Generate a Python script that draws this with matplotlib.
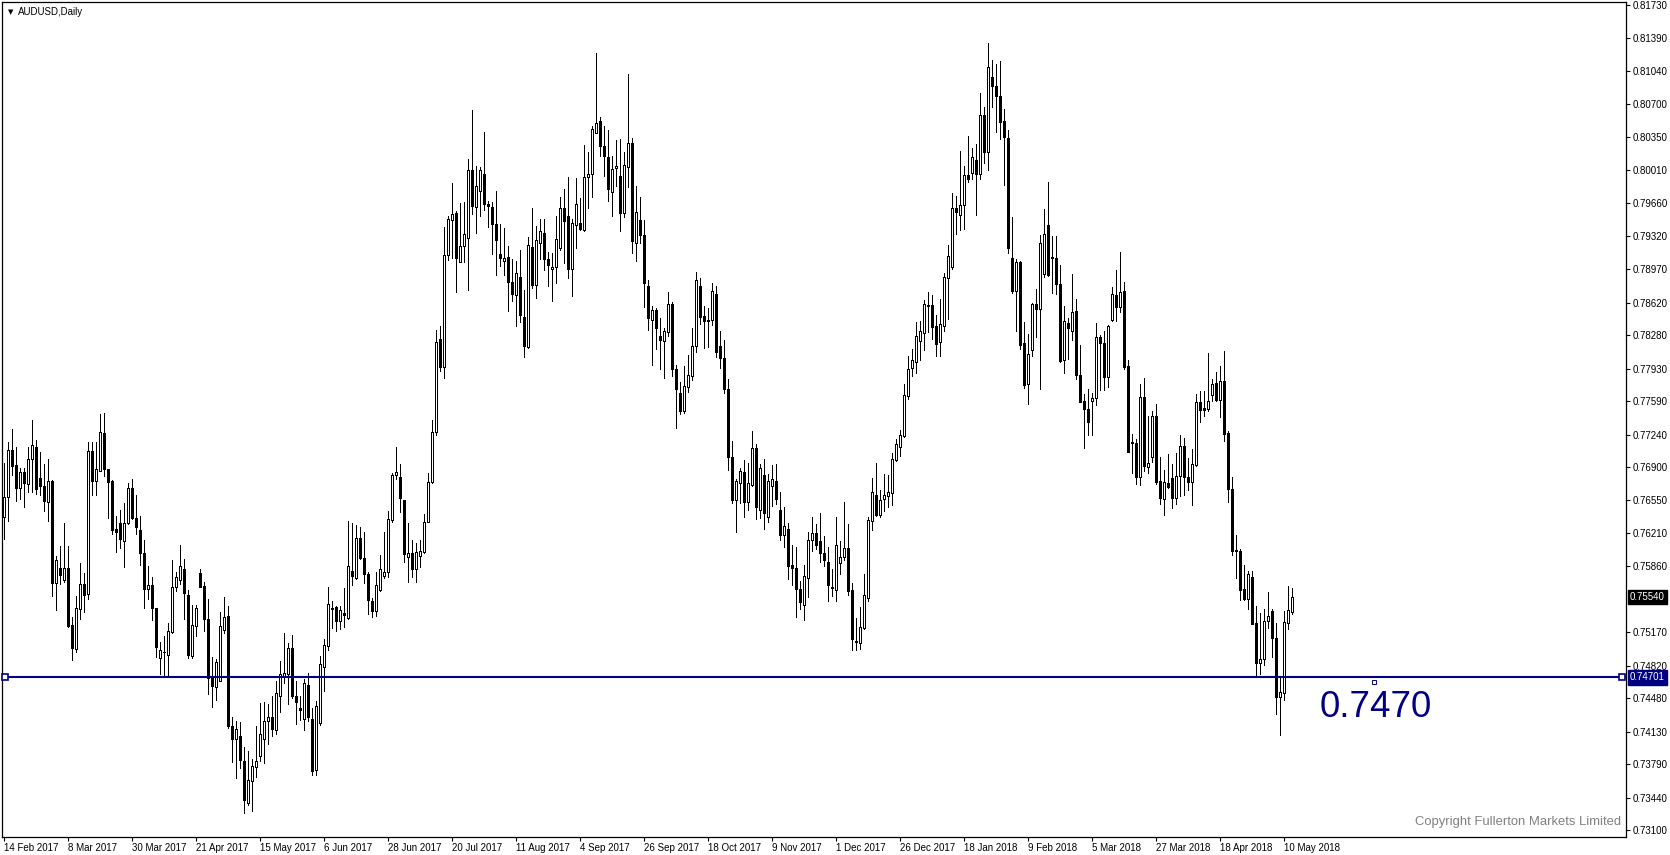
import matplotlib
matplotlib.use("Agg")
import matplotlib.pyplot as plt
import matplotlib.transforms as mtransforms
import numpy as np

plt.rcParams["font.family"] = ["Liberation Sans", "DejaVu Sans"]

# AUDUSD daily OHLC, 14 Feb 2017 .. mid May 2018
opens = [
    .7638, .7659, .7708, .7692, .7668, .7685, .7672, .7698, .7711, .7678,
    .7670, .7653, .7675, .7569, .7584, .7572, .7584, .7525, .7500, .7541,
    .7568, .7557, .7707, .7675, .7686, .7726, .7688, .7675, .7625, .7631,
    .7613, .7631, .7668, .7637, .7624, .7600, .7562, .7567, .7543, .7490,
    .7497, .7493, .7517, .7564, .7572, .7583, .7556, .7492, .7524, .7579,
    .7566, .7531, .7470, .7460, .7466, .7519, .7534, .7419, .7405, .7409,
    .7383, .7339, .7362, .7376, .7388, .7405, .7424, .7429, .7415, .7451,
    .7470, .7474, .7501, .7451, .7438, .7426, .7462, .7426, .7373, .7422,
    .7481, .7503, .7541, .7544, .7529, .7537, .7532, .7581, .7574, .7616,
    .7595, .7578, .7550, .7539, .7561, .7576, .7580, .7635, .7682, .7680,
    .7655, .7596, .7600, .7583, .7597, .7601, .7633, .7674, .7727, .7824,
    .7795, .7912, .7948, .7956, .7904, .7921, .7930, .8001, .7962, .7979,
    .7997, .7965, .7962, .7944, .7913, .7906, .7910, .7884, .7870, .7889,
    .7847, .7816, .7920, .7880, .7924, .7935, .7908, .7897, .7899, .7919,
    .7961, .7953, .7897, .7943, .7945, .7938, .7993, .7996, .8039, .8052,
    .8026, .8014, .7978, .8003, .7994, .7956, .8004, .8029, .7924, .7948,
    .7933, .7879, .7844, .7854, .7827, .7822, .7831, .7860, .7792, .7767,
    .7749, .7774, .7785, .7817, .7879, .7848, .7843, .7844, .7871, .7817,
    .7804, .7772, .7700, .7656, .7673, .7685, .7653, .7671, .7710, .7645,
    .7682, .7638, .7670, .7675, .7645, .7619, .7625, .7587, .7584, .7562,
    .7546, .7574, .7614, .7621, .7613, .7600, .7591, .7564, .7561, .7590,
    .7596, .7605, .7561, .7508, .7506, .7522, .7553, .7634, .7661, .7640,
    .7657, .7660, .7663, .7697, .7711, .7722, .7764, .7794, .7800, .7822,
    .7830, .7859, .7859, .7837, .7821, .7838, .7888, .7899, .7961, .7954,
    .7964, .7995, .7998, .8011, .7996, .8058, .8019, .8098, .8089, .8078,
    .8052, .8034, .7909, .7874, .7904, .7820, .7777, .7812, .7860, .7855,
    .7892, .7943, .7910, .7909, .7881, .7802, .7841, .7832, .7853, .7786,
    .7759, .7751, .7759, .7762, .7826, .7820, .7784, .7844, .7870, .7857,
    .7874, .7796, .7716, .7715, .7680, .7763, .7690, .7700, .7743, .7675,
    .7657, .7673, .7678, .7658, .7681, .7712, .7680, .7674, .7692, .7758,
    .7752, .7751, .7765, .7778, .7760, .7780, .7726, .7667, .7603, .7602,
    .7562, .7552, .7575, .7527, .7485, .7489, .7529, .7539, .7511, .7449,
    .7454, .7527, .7538,
]
highs = [
    .7694, .7716, .7730, .7711, .7689, .7689, .7711, .7739, .7718, .7706,
    .7693, .7698, .7676, .7597, .7607, .7631, .7607, .7533, .7555, .7590,
    .7579, .7716, .7716, .7716, .7745, .7747, .7688, .7676, .7639, .7645,
    .7652, .7673, .7677, .7661, .7639, .7614, .7586, .7575, .7543, .7507,
    .7513, .7527, .7593, .7580, .7608, .7594, .7561, .7546, .7546, .7583,
    .7570, .7552, .7491, .7489, .7538, .7554, .7545, .7429, .7424, .7423,
    .7397, .7393, .7385, .7419, .7443, .7444, .7442, .7451, .7466, .7487,
    .7516, .7506, .7514, .7466, .7451, .7468, .7475, .7438, .7445, .7492,
    .7510, .7565, .7550, .7545, .7545, .7563, .7634, .7631, .7629, .7627,
    .7622, .7580, .7553, .7580, .7598, .7622, .7644, .7684, .7711, .7693,
    .7655, .7631, .7614, .7611, .7614, .7641, .7684, .7739, .7833, .7838,
    .7941, .7953, .7987, .7958, .7966, .7967, .8012, .8063, .8005, .8004,
    .8040, .7968, .7967, .7979, .7944, .7940, .7921, .7908, .7906, .7917,
    .7875, .7931, .7961, .7942, .7949, .7949, .7915, .7914, .7953, .7972,
    .7981, .7993, .7949, .7992, .7971, .8027, .8019, .8047, .8123, .8056,
    .8047, .8043, .8015, .8032, .8033, .8019, .8101, .8034, .7984, .7972,
    .7948, .7886, .7858, .7856, .7846, .7835, .7873, .7863, .7797, .7779,
    .7796, .7807, .7835, .7894, .7888, .7858, .7856, .7882, .7879, .7832,
    .7823, .7782, .7717, .7677, .7689, .7697, .7694, .7728, .7714, .7693,
    .7698, .7683, .7692, .7693, .7664, .7648, .7631, .7608, .7606, .7571,
    .7588, .7622, .7638, .7630, .7642, .7618, .7606, .7583, .7638, .7613,
    .7653, .7630, .7569, .7532, .7544, .7578, .7638, .7678, .7694, .7666,
    .7683, .7682, .7705, .7719, .7729, .7777, .7806, .7813, .7842, .7843,
    .7865, .7873, .7870, .7849, .7866, .7893, .7922, .7977, .7973, .8021,
    .8005, .8036, .8024, .8028, .8081, .8067, .8133, .8116, .8112, .8115,
    .8065, .8043, .7952, .7908, .7906, .7842, .7829, .7862, .7876, .7933,
    .7960, .7988, .7932, .7932, .7901, .7858, .7846, .7892, .7866, .7818,
    .7766, .7772, .7767, .7841, .7828, .7832, .7839, .7878, .7896, .7915,
    .7884, .7802, .7725, .7719, .7777, .7783, .7743, .7749, .7756, .7700,
    .7687, .7704, .7693, .7705, .7724, .7720, .7699, .7709, .7766, .7770,
    .7769, .7809, .7782, .7789, .7796, .7811, .7728, .7680, .7619, .7604,
    .7588, .7581, .7581, .7545, .7537, .7542, .7559, .7541, .7527, .7470,
    .7539, .7566, .7563,
]
lows = [
    .7615, .7634, .7682, .7654, .7657, .7648, .7664, .7664, .7662, .7661,
    .7644, .7634, .7555, .7540, .7568, .7570, .7523, .7488, .7496, .7531,
    .7538, .7552, .7661, .7661, .7686, .7681, .7637, .7620, .7601, .7605,
    .7585, .7630, .7636, .7620, .7588, .7543, .7552, .7530, .7491, .7473,
    .7471, .7470, .7516, .7560, .7568, .7531, .7490, .7490, .7513, .7565,
    .7518, .7453, .7439, .7446, .7466, .7516, .7417, .7381, .7365, .7375,
    .7328, .7336, .7330, .7366, .7383, .7380, .7400, .7409, .7411, .7434,
    .7464, .7442, .7448, .7421, .7425, .7415, .7424, .7368, .7368, .7420,
    .7456, .7499, .7522, .7518, .7521, .7523, .7531, .7567, .7573, .7594,
    .7569, .7536, .7533, .7534, .7560, .7574, .7575, .7633, .7677, .7643,
    .7591, .7570, .7575, .7570, .7585, .7600, .7633, .7673, .7724, .7790,
    .7783, .7907, .7909, .7873, .7904, .7904, .7875, .7955, .7935, .7953,
    .7959, .7941, .7913, .7891, .7900, .7891, .7853, .7864, .7838, .7842,
    .7805, .7814, .7877, .7867, .7908, .7896, .7879, .7864, .7882, .7917,
    .7903, .7888, .7869, .7919, .7938, .7937, .7961, .7972, .8039, .8015,
    .7994, .7968, .7953, .7984, .7937, .7951, .7983, .7914, .7906, .7924,
    .7857, .7833, .7797, .7813, .7793, .7783, .7827, .7785, .7731, .7745,
    .7747, .7768, .7781, .7810, .7840, .7815, .7816, .7839, .7805, .7794,
    .7767, .7687, .7652, .7622, .7652, .7638, .7645, .7670, .7636, .7637,
    .7625, .7633, .7649, .7651, .7614, .7606, .7573, .7567, .7533, .7542,
    .7530, .7554, .7602, .7604, .7591, .7586, .7550, .7555, .7550, .7578,
    .7593, .7556, .7499, .7499, .7500, .7521, .7550, .7624, .7639, .7638,
    .7644, .7648, .7650, .7696, .7702, .7721, .7761, .7785, .7788, .7802,
    .7812, .7831, .7824, .7806, .7806, .7832, .7845, .7897, .7934, .7938,
    .7939, .7988, .7991, .7954, .7991, .8008, .8001, .8067, .8040, .8033,
    .7985, .7914, .7872, .7832, .7813, .7773, .7756, .7806, .7826, .7772,
    .7889, .7890, .7872, .7871, .7800, .7788, .7803, .7823, .7782, .7758,
    .7710, .7724, .7724, .7755, .7771, .7771, .7774, .7843, .7843, .7852,
    .7792, .7706, .7684, .7672, .7671, .7686, .7684, .7695, .7672, .7651,
    .7640, .7668, .7647, .7651, .7660, .7661, .7666, .7650, .7691, .7737,
    .7743, .7749, .7759, .7759, .7742, .7717, .7653, .7598, .7574, .7551,
    .7551, .7541, .7526, .7470, .7473, .7483, .7522, .7491, .7432, .7410,
    .7446, .7521, .7536,
]
closes = [
    .7659, .7708, .7691, .7668, .7685, .7673, .7698, .7713, .7667, .7670,
    .7654, .7675, .7569, .7593, .7577, .7584, .7524, .7501, .7543, .7568,
    .7556, .7707, .7675, .7688, .7727, .7688, .7674, .7624, .7622, .7615,
    .7631, .7668, .7637, .7627, .7600, .7562, .7567, .7543, .7502, .7499,
    .7497, .7518, .7564, .7575, .7586, .7558, .7493, .7525, .7543, .7565,
    .7531, .7469, .7461, .7486, .7524, .7533, .7419, .7405, .7416, .7384,
    .7342, .7363, .7377, .7383, .7411, .7424, .7429, .7416, .7454, .7474,
    .7475, .7501, .7451, .7444, .7436, .7464, .7429, .7372, .7440, .7484,
    .7504, .7547, .7543, .7529, .7540, .7535, .7586, .7576, .7616, .7595,
    .7578, .7551, .7539, .7567, .7583, .7580, .7636, .7682, .7685, .7658,
    .7599, .7600, .7583, .7601, .7602, .7633, .7674, .7727, .7821, .7795,
    .7912, .7949, .7955, .7909, .7921, .7934, .8001, .7963, .7984, .8001,
    .7965, .7963, .7944, .7927, .7909, .7909, .7884, .7871, .7893, .7849,
    .7817, .7922, .7880, .7927, .7937, .7908, .7901, .7899, .7928, .7961,
    .7947, .7897, .7945, .7965, .7939, .7993, .7997, .8044, .8050, .8026,
    .8015, .7981, .8002, .8005, .7956, .8006, .8029, .7926, .7957, .7933,
    .7882, .7846, .7854, .7835, .7823, .7832, .7860, .7792, .7772, .7749,
    .7775, .7786, .7817, .7886, .7847, .7843, .7844, .7874, .7810, .7804,
    .7772, .7700, .7656, .7675, .7686, .7653, .7673, .7710, .7648, .7689,
    .7642, .7675, .7677, .7657, .7619, .7628, .7586, .7584, .7562, .7549,
    .7576, .7614, .7621, .7608, .7600, .7593, .7567, .7563, .7608, .7596,
    .7605, .7560, .7510, .7507, .7523, .7556, .7635, .7664, .7640, .7656,
    .7661, .7664, .7698, .7714, .7724, .7765, .7792, .7802, .7827, .7832,
    .7860, .7858, .7836, .7819, .7840, .7889, .7911, .7961, .7957, .7964,
    .7995, .7991, .8014, .7997, .8058, .8019, .8108, .8089, .8078, .8051,
    .8035, .7919, .7874, .7904, .7818, .7776, .7808, .7860, .7855, .7924,
    .7934, .7891, .7909, .7881, .7801, .7843, .7835, .7852, .7786, .7758,
    .7751, .7737, .7762, .7826, .7820, .7784, .7838, .7871, .7857, .7873,
    .7795, .7706, .7715, .7680, .7763, .7691, .7694, .7743, .7674, .7658,
    .7674, .7669, .7658, .7681, .7712, .7680, .7674, .7693, .7758, .7750,
    .7750, .7759, .7777, .7760, .7780, .7725, .7667, .7602, .7602, .7561,
    .7552, .7578, .7526, .7485, .7489, .7529, .7534, .7511, .7449, .7455,
    .7528, .7540, .7554,
]

date_labels = ["14 Feb 2017", "8 Mar 2017", "30 Mar 2017", "21 Apr 2017", "15 May 2017",
               "6 Jun 2017", "28 Jun 2017", "20 Jul 2017", "11 Aug 2017", "4 Sep 2017",
               "26 Sep 2017", "18 Oct 2017", "9 Nov 2017", "1 Dec 2017", "26 Dec 2017",
               "18 Jan 2018", "9 Feb 2018", "5 Mar 2018", "27 Mar 2018", "18 Apr 2018",
               "10 May 2018"]
price_ticks = [0.81730, 0.81390, 0.81040, 0.80700, 0.80350, 0.80010, 0.79660, 0.79320,
               0.78970, 0.78620, 0.78280, 0.77930, 0.77590, 0.77240, 0.76900, 0.76550,
               0.76210, 0.75860, 0.75170, 0.74820, 0.74480, 0.74130, 0.73790, 0.73440,
               0.73100]
level = 0.74701
last_price = 0.75540

NAVY = "#000080"

o = np.array(opens); h = np.array(highs); l = np.array(lows); c = np.array(closes)
x = np.arange(len(o))
up = c >= o

fig = plt.figure(figsize=(16.7, 8.55), dpi=100)
ax = fig.add_axes([2 / 1670, 18 / 855, 1624 / 1670, 835 / 855])
ax.set_xlim(-0.4, 405.6)
ax.set_ylim(0.73030, 0.81764)

# candles: wick first, body on top (hard 1px edges, like the terminal)
ax.vlines(x, l, h, color="black", lw=0.5, zorder=2, antialiased=False)
ax.bar(x, np.abs(c - o), bottom=np.minimum(o, c), width=0.55,
       color=np.where(up, "white", "black"), edgecolor="black", linewidth=0.5,
       zorder=3, antialiased=False)

# horizontal level
ax.axhline(level, color=NAVY, lw=1.5, zorder=4)
ax.plot([0.35, 404.6], [level, level], ls="none", marker="s", ms=4,
        mfc="white", mec=NAVY, mew=1.2, zorder=5, clip_on=False)
ax.plot([342.6], [0.74651], ls="none", marker="s", ms=2.3,
        mfc="white", mec=NAVY, mew=0.7, zorder=5)
ax.text(328.9, 0.74285, "0.7470", fontsize=26.5, color=NAVY, ha="left", va="baseline")

# axes styling
for sp in ax.spines.values():
    sp.set_linewidth(0.9)
ax.yaxis.tick_right()
ax.set_yticks(price_ticks, [f"{v:.5f}" for v in price_ticks])
ax.tick_params(axis="y", direction="out", length=3, width=0.8, labelsize=7, pad=2)
ax.set_xticks(np.arange(len(date_labels)) * 16, date_labels)
ax.tick_params(axis="x", direction="out", length=3, width=0.8, labelsize=7, pad=1.5)
for lbl in ax.get_xticklabels():
    lbl.set_ha("left")

# price boxes on the axis
trans = mtransforms.blended_transform_factory(ax.transAxes, ax.transData)
ax.text(1.0 + 4 / 1624, last_price, f"{last_price:.5f}", transform=trans, ha="left", va="center",
        color="white", fontsize=7, clip_on=False,
        bbox=dict(boxstyle="square,pad=0.25", fc="black", ec="black"))
ax.text(1.0 + 4 / 1624, level, f"{level:.5f}", transform=trans, ha="left", va="center",
        color="white", fontsize=7, clip_on=False,
        bbox=dict(boxstyle="square,pad=0.25", fc=NAVY, ec=NAVY))

# title and copyright
fig.text(8 / 1670, 1 - 12 / 855, "\u25bc", fontsize=5, va="center", family="DejaVu Sans")
fig.text(18 / 1670, 1 - 12 / 855, "AUDUSD,Daily", fontsize=7, va="center")
fig.text(1621 / 1670, 1 - 825 / 855, "Copyright Fullerton Markets Limited",
         ha="right", va="baseline", color="#808080", fontsize=9.4)

fig.savefig("out.png", dpi=100)
